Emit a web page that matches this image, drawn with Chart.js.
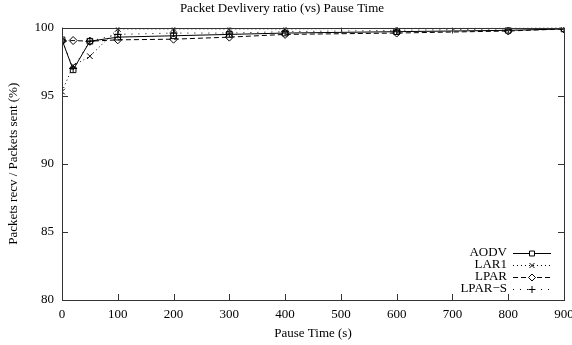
<!DOCTYPE html>
<html>
<head>
<meta charset="utf-8">
<script src="https://cdn.jsdelivr.net/npm/chart.js@4.4.1/dist/chart.umd.min.js"></script>
<style>
  html, body { margin: 0; padding: 0; background: #fff; }
  #wrap { width: 572px; height: 345px; }
</style>
</head>
<body>
<div id="wrap"><canvas id="pdr"></canvas></div>
<script>
// pause time (s) on the x axis
const pauseTimes = [0, 20, 50, 100, 200, 300, 400, 600, 800, 900];

// delivery ratio per protocol (%)
const aodv  = [99.1, 96.9, 99.0, 99.3, 99.4, 99.5, 99.6, 99.7, 99.8, 99.9];
const lar1  = [95.3, 97.2, 97.9, 99.9, 99.9, 99.9, 99.9, 99.95, 99.95, 100];
const lpar  = [99.0, 99.05, 99.0, 99.1, 99.15, 99.3, 99.5, 99.6, 99.75, 99.9];
const lparS = [99.1, 97.0, 99.0, 99.5, 99.6, 99.6, 99.7, 99.8, 99.9, 99.95];

const xTicks = [0, 100, 200, 300, 400, 500, 600, 700, 800, 900];
const yTicks = [80, 85, 90, 95, 100];

const SERIF = "'Liberation Serif', 'DejaVu Serif', serif";
const INK = "#000";
const AXIS = "#333";
const FS = 13;

function pts(ys) {
  return pauseTimes.map((x, i) => ({ x, y: ys[i] }));
}

function series(label, ys, style, dash) {
  return {
    label,
    data: pts(ys),
    borderColor: INK,
    backgroundColor: "rgba(0,0,0,0)",
    borderWidth: 1,
    borderDash: dash,
    pointStyle: style,
    pointRadius: 4,
    pointBorderColor: INK,
    pointBorderWidth: 1,
    pointBackgroundColor: "rgba(0,0,0,0)",
    tension: 0
  };
}

// gnuplot-ish frame: border, inward ticks on all four sides, key inside the plot
const framePlugin = {
  id: "frame",
  afterDraw(chart) {
    const { ctx, chartArea: a, scales } = chart;
    const tl = 6;
    ctx.save();
    ctx.strokeStyle = AXIS;
    ctx.lineWidth = 1;
    ctx.setLineDash([]);
    ctx.strokeRect(Math.round(a.left) + 0.5, Math.round(a.top) + 0.5,
      Math.round(a.right - a.left), Math.round(a.bottom - a.top));

    ctx.beginPath();
    for (const v of xTicks) {
      const px = Math.round(scales.x.getPixelForValue(v)) + 0.5;
      ctx.moveTo(px, a.bottom); ctx.lineTo(px, a.bottom - tl);
      ctx.moveTo(px, a.top); ctx.lineTo(px, a.top + tl);
    }
    for (const v of yTicks) {
      const py = Math.round(scales.y.getPixelForValue(v)) + 0.5;
      ctx.moveTo(a.left, py); ctx.lineTo(a.left + tl, py);
      ctx.moveTo(a.right, py); ctx.lineTo(a.right - tl, py);
    }
    ctx.stroke();

    // key
    ctx.font = FS + "px " + SERIF;
    ctx.textAlign = "right";
    ctx.textBaseline = "middle";
    ctx.strokeStyle = INK;
    const textX = 507, x0 = 513, x1 = 551, mx = 532;
    chart.data.datasets.forEach((ds, i) => {
      const y = 253 + i * 12;
      ctx.fillStyle = INK;
      ctx.fillText(ds.label, textX, y);
      ctx.beginPath();
      ctx.setLineDash(ds.borderDash || []);
      ctx.moveTo(x0, y + 0.5); ctx.lineTo(x1, y + 0.5);
      ctx.stroke();
      ctx.setLineDash([]);
      ctx.fillStyle = "#fff";
      Chart.helpers.drawPoint(ctx, {
        pointStyle: ds.pointStyle, radius: 3.5, borderWidth: 1
      }, mx, y + 0.5);
    });
    ctx.restore();
  }
};

new Chart(document.getElementById("pdr"), {
  type: "line",
  data: {
    datasets: [
      series("AODV", aodv, "rect", []),
      series("LAR1", lar1, "crossRot", [1, 3]),
      series("LPAR", lpar, "rectRot", [5, 3]),
      series("LPAR\u2212S", lparS, "cross", [1, 6])
    ]
  },
  options: {
    responsive: true,
    maintainAspectRatio: false,
    animation: false,
    layout: { padding: { top: 0, right: 8, left: 0, bottom: 0 } },
    plugins: {
      legend: { display: false },
      tooltip: { enabled: false },
      title: {
        display: true,
        text: "Packet Devlivery ratio (vs) Pause Time",
        color: INK,
        font: { family: SERIF, size: FS, weight: "normal" },
        padding: { top: 1, bottom: 11 }
      }
    },
    scales: {
      x: {
        type: "linear",
        min: 0,
        max: 900,
        afterBuildTicks: s => { s.ticks = xTicks.map(v => ({ value: v })); },
        afterFit: s => { s.height = 45; s.paddingLeft = 0; s.paddingRight = 0; },
        grid: { display: false, drawTicks: false },
        border: { display: false },
        ticks: { color: INK, padding: 7, maxRotation: 0, font: { family: SERIF, size: FS } },
        title: {
          display: true, text: "Pause Time (s)", color: INK,
          font: { family: SERIF, size: FS }, padding: { top: 0, bottom: 4 }
        }
      },
      y: {
        min: 80,
        max: 100,
        afterBuildTicks: s => { s.ticks = yTicks.map(v => ({ value: v })); },
        afterFit: s => { s.width = 62; s.paddingTop = 0; s.paddingBottom = 0; },
        grid: { display: false, drawTicks: false },
        border: { display: false },
        ticks: { color: INK, padding: 8, font: { family: SERIF, size: FS } },
        title: {
          display: true, text: "Packets recv / Packets sent (%)", color: INK,
          font: { family: SERIF, size: FS }, padding: { top: 6, bottom: 0 }
        }
      }
    }
  },
  plugins: [framePlugin]
});
</script>
</body>
</html>
